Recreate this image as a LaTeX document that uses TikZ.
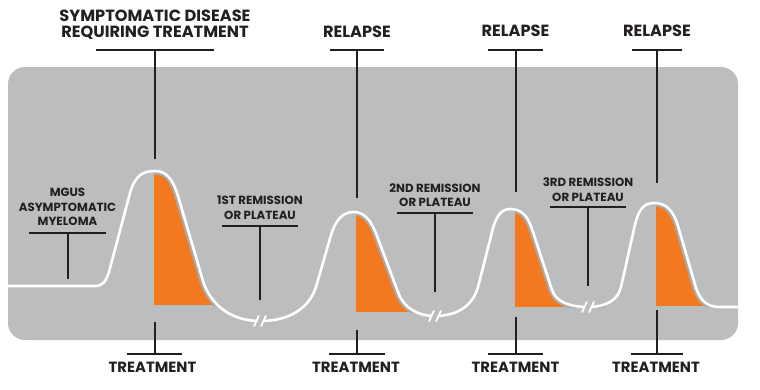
\documentclass[tikz,border=0pt]{standalone}
\usepackage{fontspec}
\setmainfont{Poppins}
\definecolor{bg}{RGB}{188,189,191}
\definecolor{org}{RGB}{243,121,33}
\definecolor{ink}{RGB}{35,31,32}
\definecolor{gapc}{RGB}{174,170,166}
\def\mcurve{(8,286) -- (95,286) .. controls (103,286) and (106,281) .. (109,272) -- (130,193) .. controls (135,176) and (142,171) .. (155,171) .. controls (167,171) and (173,180) .. (178,196) -- (203,281) .. controls (211,306) and (232,321) .. (260,321) .. controls (290,321) and (309,308) .. (316,287) -- (331,235) .. controls (336,219) and (343,212) .. (354,212) .. controls (365,212) and (372,222) .. (377,236) -- (398,292) .. controls (404,309) and (419,316) .. (435,316) .. controls (458,316) and (473,305) .. (478,287) -- (491,236) .. controls (495,218) and (500,209) .. (510,209) .. controls (522,209) and (528,216) .. (533,232) -- (552,290) .. controls (556,302) and (570,307) .. (588,307) .. controls (606,307) and (618,300) .. (621,287) -- (634,229) .. controls (638,210) and (643,203) .. (654,203) .. controls (666,203) and (673,210) .. (678,226) -- (696,288) .. controls (701,302) and (708,307) .. (720,307) -- (738,307)}
\tikzset{
  big/.style={font=\bfseries\fontsize{16.2}{15.5}\selectfont, text=ink, align=center, inner sep=0pt},
  small/.style={font=\bfseries\fontsize{11.8}{14.7}\selectfont, text=ink, align=center, inner sep=0pt},
  trt/.style={font=\bfseries\fontsize{14.8}{14.8}\selectfont, text=ink, align=center, inner sep=0pt},
  lead/.style={draw=ink, line width=1.3pt},
  curveline/.style={draw=white, line width=2.6pt},
  gapline/.style={draw=gapc, line width=7pt},
  brk/.style={draw=white, line width=1.8pt},
  cut/.style={draw=bg, line width=5pt}
}
\newcommand\orangepeak[2]{%
  \begin{scope}
    \clip (#1,150) rectangle (#1+90,#2);
    \clip \mcurve -- (738,400) -- (8,400) -- cycle;
    \fill[org] (#1,150) rectangle (#1+90,#2);
    \draw[gapline] \mcurve;
  \end{scope}}
\newcommand\breakmark[2]{%
  \draw[cut] (#1-3.5,#2) -- (#1+3.5,#2);
  \draw[brk] (#1-6,#2+5.5) -- (#1-1,#2-5.5);
  \draw[brk] (#1+1,#2+5.5) -- (#1+6,#2-5.5);}
\begin{document}
\begin{tikzpicture}[x=1pt,y=-1pt]
\useasboundingbox (0,0) rectangle (760,389);
\fill[bg, rounded corners=17pt] (8,67) rectangle (738,340);
% orange treatment areas
\orangepeak{154}{305}
\orangepeak{356}{312}
\orangepeak{515}{307}
\orangepeak{656}{306}
% disease curve
\draw[curveline] \mcurve;
\breakmark{260}{321}
\breakmark{435}{316}
\breakmark{588}{307}
% top labels
\node[big] (symp) at (155,24.5) {SYMPTOMATIC DISEASE\\REQUIRING TREATMENT};
\node[big] (rel1) at (357,32) {RELAPSE};
\node[big] (rel2) at (515.5,31) {RELAPSE};
\node[big] (rel3) at (657,31) {RELAPSE};
\coordinate (sympL) at (96,50); \coordinate (sympR) at (214,50);
\coordinate (sympJ) at (155,50); \coordinate (sympE) at (155,159);
\coordinate (rel1L) at (330,50); \coordinate (rel1R) at (384,50);
\coordinate (rel1J) at (357,50); \coordinate (rel1E) at (357,198);
\coordinate (rel2L) at (488,50); \coordinate (rel2R) at (543,50);
\coordinate (rel2J) at (516,50); \coordinate (rel2E) at (516,192);
\coordinate (rel3L) at (632,50); \coordinate (rel3R) at (682,50);
\coordinate (rel3J) at (657,50); \coordinate (rel3E) at (657,183);
\draw[lead] (sympL) -- (sympR); \draw[lead] (sympJ) -- (sympE);
\draw[lead] (rel1L) -- (rel1R); \draw[lead] (rel1J) -- (rel1E);
\draw[lead] (rel2L) -- (rel2R); \draw[lead] (rel2J) -- (rel2E);
\draw[lead] (rel3L) -- (rel3R); \draw[lead] (rel3J) -- (rel3E);
% stage labels
\node[small] (mgus) at (67.5,207) {MGUS\\ASYMPTOMATIC\\MYELOMA};
\node[small] (rem1) at (260,207.5) {1ST REMISSION\\OR PLATEAU};
\node[small] (rem2) at (435,195) {2ND REMISSION\\OR PLATEAU};
\node[small] (rem3) at (588,189.5) {3RD REMISSION\\OR PLATEAU};
\coordinate (mgusL) at (29,233); \coordinate (mgusR) at (106,233);
\coordinate (mgusJ) at (68,233); \coordinate (mgusE) at (68,279);
\coordinate (rem1L) at (222,226); \coordinate (rem1R) at (298,226);
\coordinate (rem1J) at (260,226); \coordinate (rem1E) at (260,300);
\coordinate (rem2L) at (397,213); \coordinate (rem2R) at (473,213);
\coordinate (rem2J) at (435,213); \coordinate (rem2E) at (435,292);
\coordinate (rem3L) at (550,207); \coordinate (rem3R) at (626,207);
\coordinate (rem3J) at (588,207); \coordinate (rem3E) at (588,286);
\draw[lead] (mgusL) -- (mgusR); \draw[lead] (mgusJ) -- (mgusE);
\draw[lead] (rem1L) -- (rem1R); \draw[lead] (rem1J) -- (rem1E);
\draw[lead] (rem2L) -- (rem2R); \draw[lead] (rem2J) -- (rem2E);
\draw[lead] (rem3L) -- (rem3R); \draw[lead] (rem3J) -- (rem3E);
% treatment labels
\node[trt] (trt1) at (152.5,367.5) {TREATMENT};
\node[trt] (trt2) at (356,367.5) {TREATMENT};
\node[trt] (trt3) at (515.5,367.5) {TREATMENT};
\node[trt] (trt4) at (656,367.5) {TREATMENT};
\coordinate (trt1L) at (127,354); \coordinate (trt1R) at (182,354);
\coordinate (trt1J) at (155,354); \coordinate (trt1E) at (155,322);
\coordinate (trt2L) at (329,354); \coordinate (trt2R) at (385,354);
\coordinate (trt2J) at (357,354); \coordinate (trt2E) at (357,330);
\coordinate (trt3L) at (488,354); \coordinate (trt3R) at (543,354);
\coordinate (trt3J) at (516,354); \coordinate (trt3E) at (516,317);
\coordinate (trt4L) at (631,354); \coordinate (trt4R) at (683,354);
\coordinate (trt4J) at (657,354); \coordinate (trt4E) at (657,310);
\draw[lead] (trt1L) -- (trt1R); \draw[lead] (trt1J) -- (trt1E);
\draw[lead] (trt2L) -- (trt2R); \draw[lead] (trt2J) -- (trt2E);
\draw[lead] (trt3L) -- (trt3R); \draw[lead] (trt3J) -- (trt3E);
\draw[lead] (trt4L) -- (trt4R); \draw[lead] (trt4J) -- (trt4E);
\end{tikzpicture}
\end{document}
